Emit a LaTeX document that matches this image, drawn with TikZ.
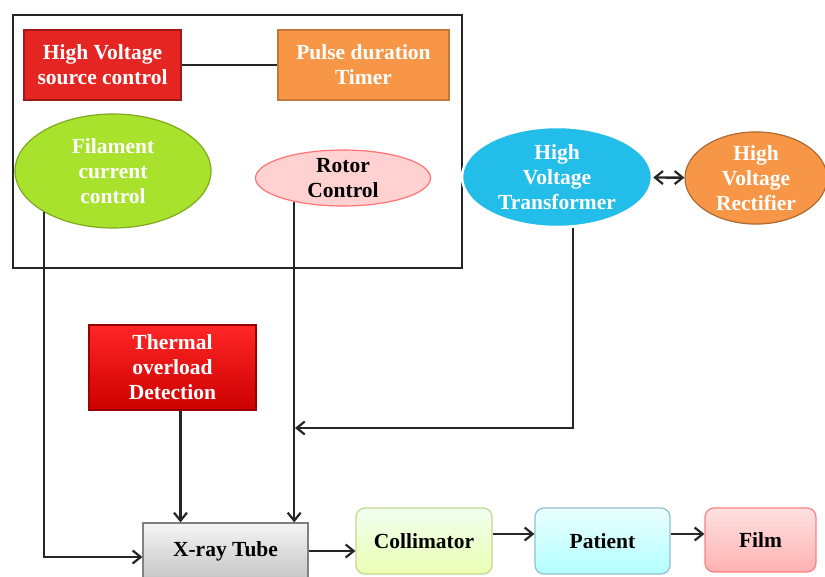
\documentclass[tikz,border=0pt]{standalone}
\usepackage{fontspec}
\setmainfont{Liberation Serif}
\usepackage{tikz}
\usetikzlibrary{arrows.meta, shapes.geometric}

\definecolor{hvred}{HTML}{E52521}
\definecolor{hvorange}{HTML}{F79646}
\definecolor{filgreen}{HTML}{A8E22C}
\definecolor{hvblue}{HTML}{22BDE8}

\begin{document}
\begin{tikzpicture}[x=1pt, y=-1pt,
        barb/.tip={Straight Barb[length=8pt, width=13pt, line width=2.2pt]},
        lbl/.style={font=\bfseries\fontsize{21.5}{25}\selectfont, align=center, inner sep=0pt},
        sqbox/.style={lbl, rectangle, draw, line width=1.2pt},
        oval/.style={lbl, ellipse, draw, line width=1.2pt},
        rbox/.style={lbl, rectangle, rounded corners=9pt, draw, line width=1.2pt},
        wire/.style={line width=2.4pt, draw=black!85},
        arr/.style={wire, -barb}]
        \clip (0,0) rectangle (825,576);
        \useasboundingbox (0,0) rectangle (825,576);

        % control unit
        \draw[line width=2.6pt, black!85] (13,15) rectangle (462,268);
        \node[sqbox, fill=hvred, draw=hvred!70!black, text=white, minimum width=157, minimum height=70]
            (hvsrc) at (102.5,65) {High Voltage\\source control};
        \node[sqbox, fill=hvorange, draw=hvorange!80!black, text=white, minimum width=171, minimum height=70]
            (timer) at (363.5,65) {Pulse duration\\Timer};
        \node[oval, fill=filgreen, draw=filgreen!75!black, text=white, minimum width=196, minimum height=114]
            (fil) at (113,171) {Filament\\current\\control};
        \node[oval, fill=red!18, draw=red!55, minimum width=175, minimum height=56]
            (rotor) at (343,178) {Rotor\\Control};

        % high voltage part
        \node[oval, fill=hvblue, draw=white, line width=2.5pt, text=white, minimum width=190, minimum height=100]
            (hvt) at (557,177) {High\\Voltage\\Transformer};
        \node[oval, fill=hvorange, draw=hvorange!70!black, text=white, minimum width=142, minimum height=86]
            (hvr) at (756,178) {High\\Voltage\\Rectifier};

        \node[sqbox, top color=red!85!white, bottom color=red!80!black, draw=red!60!black, text=white,
            minimum width=167, minimum height=85] (therm) at (172.5,367.5) {Thermal\\overload\\Detection};

        % beam path
        \node[sqbox, top color=gray!8, bottom color=gray!45, draw=gray, minimum width=165, minimum height=56]
            (xray) at (225.5,551) {X-ray Tube};
        \node[rbox, top color=green!6!white, bottom color=lime!30!white, draw=lime!45!gray!60, minimum width=136, minimum height=66]
            (coll) at (424,541) {Collimator};
        \node[rbox, top color=cyan!8, bottom color=cyan!30, draw=cyan!45!gray!70, minimum width=135, minimum height=66]
            (pat) at (602.5,541) {Patient};
        \node[rbox, top color=red!12, bottom color=red!30, draw=red!50, minimum width=111, minimum height=64]
            (film) at (760.5,540) {Film};

        \coordinate (join) at (295,428);

        % connectors
        \draw[wire] (hvsrc) -- (timer);
        \draw[wire, barb-barb] (hvt) -- (hvr);
        \draw[arr] (fil.211) |- ([yshift=-6]xray.west);
        \draw[arr] ([xshift=8]therm.south) -- ([xshift=8]therm.south |- xray.north);
        \draw[arr] (rotor.206) -- (rotor.206 |- xray.north);
        \draw[arr] ([xshift=16]hvt.south) |- (join);
        \draw[arr] (xray.east) -- (xray.east -| coll.west);
        \draw[arr] ([yshift=7]coll.east) -- ([yshift=7]coll.east -| pat.west);
        \draw[arr] ([yshift=7]pat.east) -- ([yshift=7]pat.east -| film.west);
    \end{tikzpicture}
\end{document}
